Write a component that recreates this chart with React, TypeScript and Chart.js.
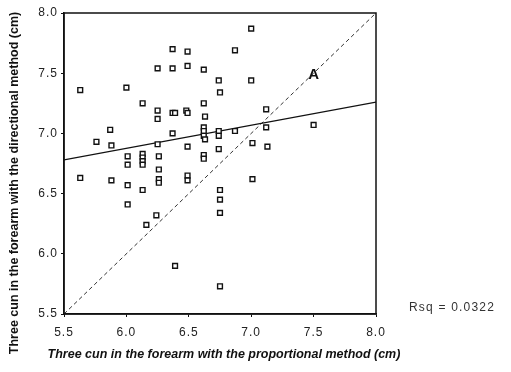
import React, { useEffect, useRef } from "react";
import { Chart, registerables } from "chart.js";

Chart.register(...registerables);

const xValues = [5.63, 6.0, 6.13, 6.25, 6.37, 6.49, 6.37, 6.49, 6.62, 6.25, 6.25, 6.37, 6.39, 6.48, 6.49, 6.62, 6.63, 6.62, 6.62, 6.62, 6.63, 6.74, 6.74, 6.87, 6.37, 6.25, 6.49, 6.74, 5.87, 5.76, 5.88, 6.01, 6.01, 6.13, 6.13, 6.13, 6.13, 6.26, 6.26, 6.26, 6.26, 6.62, 6.62, 6.49, 6.49, 6.01, 6.13, 6.75, 6.75, 6.75, 6.75, 6.39, 6.16, 6.24, 6.01, 5.63, 5.88, 7.01, 7.13, 7.01, 7.12, 7.12, 7.5, 7.0, 6.74, 6.75, 6.87, 7.0];
const yValues = [7.36, 7.38, 7.25, 7.54, 7.7, 7.68, 7.54, 7.56, 7.53, 7.19, 7.12, 7.17, 7.17, 7.19, 7.17, 7.25, 7.14, 7.05, 7.02, 6.98, 6.95, 7.02, 6.98, 7.02, 7.0, 6.91, 6.89, 6.87, 7.03, 6.93, 6.9, 6.81, 6.74, 6.83, 6.8, 6.77, 6.74, 6.81, 6.7, 6.62, 6.59, 6.82, 6.79, 6.65, 6.61, 6.57, 6.53, 6.53, 6.45, 6.34, 5.73, 5.9, 6.24, 6.32, 6.41, 6.63, 6.61, 6.62, 6.89, 6.92, 7.05, 7.2, 7.07, 7.44, 7.44, 7.34, 7.69, 7.87];

const fitLineX = [5.5, 8.0];
const fitLineY = [6.78, 7.26];
const identityX = [5.5, 8.0];
const identityY = [5.5, 8.0];

const axisMin = 5.5;
const axisMax = 8.0;
const tickStep = 0.5;

const xTitle = "Three cun in the forearm with the proportional method (cm)";
const yTitle = "Three cun in the forearm with the directional method (cm)";
const rsqText = "Rsq = 0.0322";
const markLabel = "A";

const FONT = "'Liberation Sans', Arial, sans-serif";

export default function App() {
  const ref = useRef<HTMLCanvasElement | null>(null);

  useEffect(() => {
    const canvas = ref.current;
    if (!canvas) return;
    const spacing = {
      id: "spacing",
      beforeInit(chart: any) {
        chart.ctx.letterSpacing = "1px";
      },
      beforeDraw(chart: any) {
        chart.ctx.letterSpacing = "1px";
      },
    };
    const decor = {
      id: "decor",
      afterDraw(chart: any) {
        const ctx = chart.ctx;
        const a = chart.chartArea;
        const xs = chart.scales.x;
        const ys = chart.scales.y;
        ctx.save();
        ctx.strokeStyle = "#111";
        ctx.lineWidth = 1.5;
        ctx.strokeRect(a.left, a.top, a.right - a.left, a.bottom - a.top);
        ctx.letterSpacing = "0px";
        ctx.fillStyle = "#111";
        ctx.font = `bold 15px ${FONT}`;
        ctx.textAlign = "center";
        ctx.textBaseline = "middle";
        ctx.fillText(markLabel, xs.getPixelForValue(7.5), ys.getPixelForValue(7.49));
        ctx.letterSpacing = "1.2px";
        ctx.font = `12px ${FONT}`;
        ctx.fillStyle = "#333";
        ctx.textAlign = "left";
        ctx.fillText(rsqText, 409, 308);
        ctx.letterSpacing = "0px";
        ctx.fillStyle = "#111";
        ctx.font = `italic bold 12.5px ${FONT}`;
        ctx.textAlign = "center";
        ctx.fillText(xTitle, 224, 355);
        ctx.translate(15, 183);
        ctx.rotate(-Math.PI / 2);
        ctx.font = `bold 12.5px ${FONT}`;
        ctx.fillText(yTitle, 0, 0);
        ctx.restore();
      },
    };

    const axis = (fitSize: number, isX: boolean) => ({
      type: "linear" as const,
      min: axisMin,
      max: axisMax,
      border: { display: true, color: "#111", width: 1.5 },
      grid: { display: true, drawOnChartArea: false, drawTicks: true, tickLength: 3, color: "#111" },
      ticks: {
        stepSize: tickStep,
        padding: isX ? 8 : 3,
        color: "#222",
        font: { family: FONT, size: 12 },
        callback: (v: any) => Number(v).toFixed(1),
      },
      afterFit: (scale: any) => {
        if (isX) scale.height = fitSize;
        else scale.width = fitSize;
      },
    });

    const chart = new Chart(canvas, {
      type: "scatter",
      data: {
        datasets: [
          {
            label: "fit",
            data: fitLineX.map((x, i) => ({ x, y: fitLineY[i] })),
            showLine: true,
            borderColor: "#111",
            borderWidth: 1.4,
            pointRadius: 0,
            order: 1,
          },
          {
            label: "identity",
            data: identityX.map((x, i) => ({ x, y: identityY[i] })),
            showLine: true,
            borderColor: "#333",
            borderWidth: 1,
            borderDash: [4, 3],
            pointRadius: 0,
            order: 2,
          },
          {
            label: "points",
            data: xValues.map((x, i) => ({ x, y: yValues[i] })),
            pointStyle: "rect",
            pointRadius: 3.4,
            borderColor: "#111",
            backgroundColor: "#fff",
            borderWidth: 1.4,
            order: 0,
          },
        ],
      },
      options: {
        responsive: false,
        animation: false,
        layout: { padding: { left: 0, top: 13, right: 135, bottom: 0 } },
        plugins: { legend: { display: false }, tooltip: { enabled: false } },
        scales: {
          x: axis(58, true),
          y: axis(64, false),
        },
      },
      plugins: [spacing, decor],
    });
    return () => chart.destroy();
  }, []);

  return (
    <div style={{ position: "fixed", left: 0, top: 0, width: 511, height: 372, background: "#fff" }}>
      <canvas ref={ref} width={511} height={372} />
    </div>
  );
}
